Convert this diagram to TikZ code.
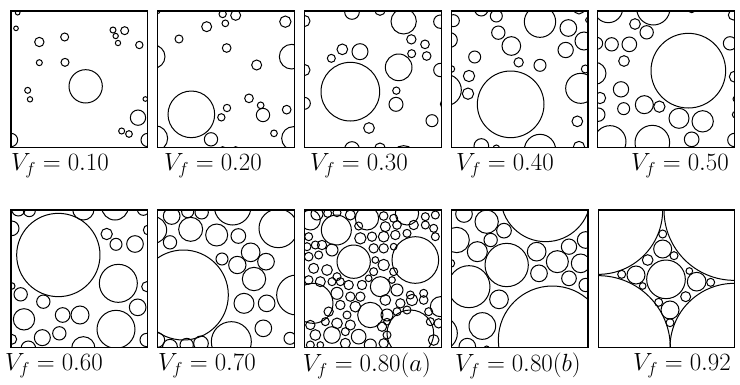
\documentclass[tikz,border=0pt]{standalone}
\begin{document}
\begin{tikzpicture}[x=1pt,y=-1pt]
\tikzset{fib/.style={line width=1pt,draw=black},
  frm/.style={line width=1.1pt,draw=black},
  lab/.style={font=\fontsize{24}{28}\selectfont,inner sep=0pt}}
\newcommand\fibpanel[7]{%
 \begin{scope}[shift={(#1,#2)},scale=1/3]
  \begin{scope}\clip (#3,#4) rectangle (#5,#6);
   \foreach \cx/\cy/\cr in {#7} \draw[fib] (\cx,\cy) circle[radius=\cr];
  \end{scope}
  \draw[frm] (#3,#4) rectangle (#5,#6);
 \end{scope}}
\useasboundingbox[fill=white] (0,0) rectangle (740,384);
% panel 1
\fibpanel{0}{0}{33}{33}{443}{443}{53/38/7, 48/85/7, 118/126/14, 194/111/12, 118/188/9, 195/187/12, 257/259/50, 83/271/9, 90/298/8, 339/90/9, 374/92/12, 347/108/8, 354/129/8, 418/135/11, 436/297/7, 414/353/23, 365/393/9, 387/402/10, 33/420/20, 443/420/20, 30/297/4}
% panel 2
\fibpanel{150}{0}{22}{33}{433}{443}{218/42/11, 257/46/15, 226/70/10, 170/80/15, 406/65/17, 87/117/12, 230/144/13, 10/170/35, 425/170/37, 320/195/15, 124/343/70, 297/295/13, 332/316/10, 339/345/20, 231/324/11, 214/352/11, 410/329/13, 183/418/20, 15/415/38, 430/415/35, 372/400/10, 218/448/8, 257/450/10, 22/33/8}
% panel 3
\fibpanel{297}{0}{22}{33}{433}{443}{165/36/22, 249/30/16, 320/64/38, 22/63/17, 430/65/20, 343/118/14, 384/133/13, 344/161/12, 389/168/13, 136/148/16, 189/155/24, 103/175/12, 160/275/88, 305/202/40, 22/210/17, 430/210/20, 298/272/11, 297/313/21, 22/310/18, 440/312/10, 405/362/18, 216/384/16, 165/447/22, 249/445/16, 320/475/38}
% panel 4
\fibpanel{444}{0}{22}{33}{432}{443}{112/28/20, 157/48/18, 288/65/47, 405/25/17, 28/62/18, 433/60/8, 373/84/25, 163/98/20, 420/123/27, 18/120/22, 202/138/28, 365/150/23, 92/171/18, 224/187/14, 288/196/18, 424/207/12, 22/207/10, 75/228/17, 5/270/47, 410/265/45, 72/281/17, 200/313/100, 400/364/16, 112/438/22, 157/445/10, 288/450/47, 405/441/17}
% panel 5
\fibpanel{590}{0}{22}{33}{433}{443}{55/25/43, 190/25/50, 305/28/10, 430/45/15, 135/72/16, 170/97/20, 295/212/112, 20/130/18, 65/133/20, 118/133/22, 420/130/20, 102/183/16, 15/220/33, 435/230/17, 93/268/23, 30/294/17, 437/297/8, 163/314/27, 208/320/17, 101/326/18, 25/344/20, 437/344/10, 267/355/30, 338/364/32, 60/425/48, 187/428/52, 305/418/22, 433/420/20}
% panel 6
\fibpanel{0}{200}{33}{30}{443}{443}{175/165/125, 55/28/20, 88/32/18, 250/28/32, 345/20/40, 430/28/18, 35/85/22, 320/102/17, 348/133/18, 405/132/25, 445/90/15, 355/250/57, 35/258/10, 62/283/20, 440/260/15, 130/305/20, 413/322/25, 72/358/32, 188/345/22, 240/345/27, 348/388/57, 178/400/20, 127/413/24, 250/445/35, 85/445/22, 35/418/15, 440/420/20}
% panel 7
\fibpanel{150}{200}{22}{30}{433}{443}{65/48/25, 113/35/18, 155/37/20, 248/20/55, 385/85/58, 10/90/40, 122/88/36, 200/105/33, 265/108/22, 60/127/20, 302/157/28, 216/177/18, 262/195/26, 348/185/25, 312/237/35, 100/285/135, 440/285/60, 282/310/30, 350/310/25, 244/425/60, 340/385/25, 60/440/22, 110/435/20, 153/430/22, 420/415/18, 22/420/22}
% panel 8
\fibpanel{297}{200}{22}{30}{433}{443}{118/90/45, 170/185/50, 355/180/70, 48/310/60, 250/260/30, 340/400/70, 220/345/38, 105/405/25, 185/410/22, 430/320/30, 210/55/35, 330/40/35, 40/60/30,
60/42/18, 92/40/12, 120/38/12, 160/45/15, 260/48/13, 290/55/12, 385/50/12, 415/45/12,
185/78/12, 265/80/15, 300/75/13, 350/75/14, 385/75/12, 410/85/12,
35/110/12, 190/115/17, 225/110/14, 260/110/16, 295/105/14, 330/100/12, 415/110/12,
30/140/12, 55/135/12, 75/135/14, 105/150/18, 230/145/14, 260/145/14, 290/140/10,
35/170/13, 65/165/12, 235/180/10, 260/195/17,
50/205/15, 90/210/16, 120/230/12, 230/215/12, 290/215/12,
35/240/13, 70/245/15, 105/245/12, 130/245/12, 155/255/14, 195/255/14, 215/235/10, 285/240/10,
120/280/18, 160/290/14, 190/290/14, 300/270/18, 340/285/12, 380/280/12,
130/315/14, 175/320/16, 265/300/16, 310/310/14, 345/300/17, 380/300/13,
95/335/14, 150/345/12, 270/345/18, 300/335/12, 330/330/12, 395/335/12,
40/375/14, 85/365/12, 120/370/16, 160/375/15, 255/380/14, 270/365/10, 400/365/12, 425/370/14,
55/405/16, 145/395/12, 270/405/12,
40/435/12, 70/435/10, 145/430/15, 220/435/18, 260/430/14, 410/420/16}
% panel 9
\fibpanel{444}{200}{22}{30}{432}{443}{305/-10/135, 325/420/162, 75/260/63, 188/195/65, 128/65/35, 180/92/22, 140/120/20, 60/42/25, 38/120/38, 100/155/30, 278/155/28, 340/185/33, 375/140/23, 410/190/28, 425/120/25, 285/220/25, 375/235/22, 425/255/20, 165/298/28, 115/378/40, 70/440/25, 20/190/12, -10/400/50, 128/446/8}
% panel 10
\fibpanel{590}{200}{25}{30}{433}{443}{25/30/193, 433/30/211, 25/443/216, 433/443/193, 228/238/58, 218/102/12, 218/147/27, 252/167/12, 173/180/16, 298/213/10, 95/223/12, 138/225/27, 158/258/10, 320/245/28, 362/247/12, 287/290/15, 206/307/12, 240/330/27, 240/368/12}
% labels
\node[lab] (l1) at (60,166) {$V_f = 0.10$};
\node[lab] (l2) at (213,166) {$V_f = 0.20$};
\node[lab] (l3) at (359,166) {$V_f = 0.30$};
\node[lab] (l4) at (505,166) {$V_f = 0.40$};
\node[lab] (l5) at (680,166) {$V_f = 0.50$};
\node[lab] (l6) at (54,366) {$V_f = 0.60$};
\node[lab] (l7) at (207,366) {$V_f = 0.70$};
\node[lab] (l8) at (367,366) {$V_f = 0.80(a)$};
\node[lab] (l9) at (518,366) {$V_f = 0.80(b)$};
\node[lab] (l10) at (682,366) {$V_f = 0.92$};
\end{tikzpicture}
\end{document}
